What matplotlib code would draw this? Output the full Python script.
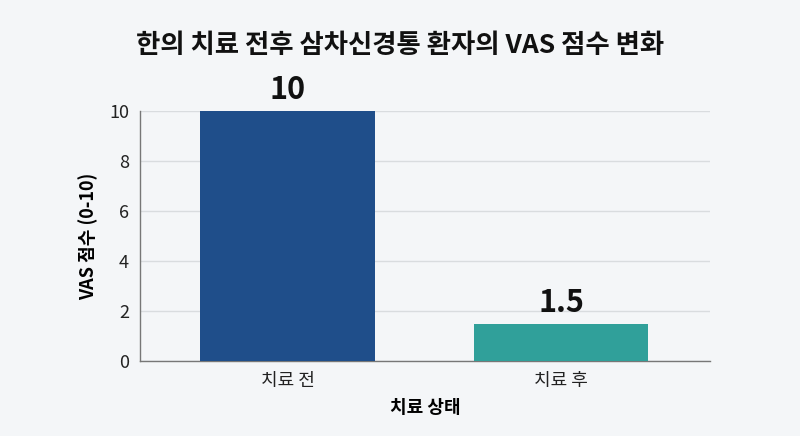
import numpy as np
import matplotlib.pyplot as plt

plt.rcParams['font.family'] = ['Noto Sans CJK KR', 'DejaVu Sans']

categories = ['치료 전', '치료 후']
vas_scores = [10, 1.5]
value_labels = ['10', '1.5']
colors = ['#1f4e8a', '#30a09a']

bg = '#f4f6f8'
fig = plt.figure(figsize=(8, 4.36), dpi=100, facecolor=bg)
ax = fig.add_axes([0.175, 0.172, 0.7125, 0.573], facecolor=bg)

x = np.arange(len(categories))
bars = ax.bar(x, vas_scores, width=0.64, color=colors, zorder=3)

for b, lab in zip(bars, value_labels):
    ax.text(b.get_x() + b.get_width() / 2, b.get_height() + 0.2, lab,
            ha='center', va='bottom', fontsize=22, fontweight='bold', color='#111111')

ax.set_xlim(-0.54, 1.545)
ax.set_ylim(0, 10)
ax.set_yticks([0, 2, 4, 6, 8, 10])
ax.set_xticks(x)
ax.set_xticklabels(categories)
ax.tick_params(length=0, labelsize=13, colors='#222222', pad=8)
ax.grid(axis='y', color='#d9dcdf', linewidth=1, zorder=0)

for s in ['top', 'right']:
    ax.spines[s].set_visible(False)
for s in ['left', 'bottom']:
    ax.spines[s].set_color('#777777')
    ax.spines[s].set_linewidth(1)

ax.set_ylabel('VAS 점수 (0-10)', fontsize=13, fontweight='bold', labelpad=8)
ax.set_xlabel('치료 상태', fontsize=13, fontweight='bold', labelpad=6)
fig.text(0.5, 0.895, '한의 치료 전후 삼차신경통 환자의 VAS 점수 변화',
         ha='center', va='center', fontsize=19, fontweight='bold', color='#111111')

plt.savefig('out.png', dpi=100, facecolor=bg)
